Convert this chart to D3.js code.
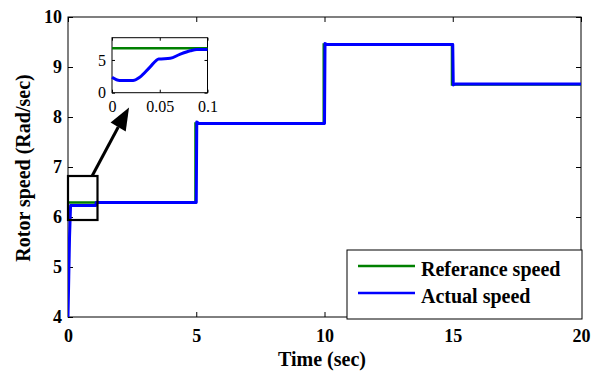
<!DOCTYPE html>
<html>
<head>
<meta charset="utf-8">
<script src="https://cdn.jsdelivr.net/npm/d3@7"></script>
<style>
  body { margin: 0; background: #fff; }
  text { font-family: "Liberation Serif", "Times New Roman", serif; }
</style>
</head>
<body>
<script>
// main chart data
const refTime  = [0, 4.97, 4.97, 9.97, 9.97, 14.97, 14.97, 20]
const refSpeed = [6.29, 6.29, 7.87, 7.87, 9.45, 9.45, 8.65, 8.65]

const actTime  = [0, 0.03, 0.06, 0.1, 1.08, 1.1, 5.0, 5.02, 5.1, 10.0, 10.02, 10.1, 15.0, 15.02, 15.1, 20]
const actSpeed = [4, 4.8, 5.6, 6.23, 6.23, 6.29, 6.29, 7.9, 7.87, 7.87, 9.47, 9.45, 9.45, 8.64, 8.66, 8.66]

// inset (zoom on first 0.1 s)
const insTime   = [0, 0.008, 0.022, 0.029, 0.040, 0.049, 0.061, 0.071, 0.082, 0.089, 0.1]
const insActual = [2.35, 1.85, 1.85, 2.35, 3.95, 5.15, 5.25, 5.85, 6.4, 6.6, 6.6]
const insRefTime = [0, 0.1]
const insRef    = [6.8, 6.8]

const xTicks = [0, 5, 10, 15, 20]
const yTicks = [4, 5, 6, 7, 8, 9, 10]
const insXTicks = [0, 0.05, 0.1]
const insYTicks = [0, 5]

const legendItems = [
  {name: 'Referance speed', color: '#008000'},
  {name: 'Actual speed', color: '#0000ff'}
]

const W = 592, H = 376
const m = {left: 68, right: 11, top: 17, bottom: 59}
const SERIF = '"Liberation Serif", "Times New Roman", serif'

const svg = d3.select('body')
  .append('svg')
  .attr('width', W)
  .attr('height', H)

const x = d3.scaleLinear().domain([0, 20]).range([m.left, W - m.right])
const y = d3.scaleLinear().domain([4, 10]).range([H - m.bottom, m.top])

function drawAxes(g, xs, ys, xt, yt, opt) {
  const tl = opt.tick
  const [x0, x1] = xs.range()
  const [y0, y1] = ys.range()
  // ticks inward on all four sides
  const bottom = g.append('g').attr('transform', `translate(0,${y0})`)
    .call(d3.axisBottom(xs).tickValues(xt).tickSize(-tl).tickPadding(opt.padX).tickFormat(opt.fx))
  const topAx = g.append('g').attr('transform', `translate(0,${y1})`)
    .call(d3.axisTop(xs).tickValues(xt).tickSize(-tl).tickFormat(''))
  const left = g.append('g').attr('transform', `translate(${x0},0)`)
    .call(d3.axisLeft(ys).tickValues(yt).tickSize(-tl).tickPadding(opt.padY).tickFormat(opt.fy))
  const right = g.append('g').attr('transform', `translate(${x1},0)`)
    .call(d3.axisRight(ys).tickValues(yt).tickSize(-tl).tickFormat(''))
  ;[bottom, topAx, left, right].forEach(a => {
    a.attr('font-family', SERIF)
      .attr('font-size', opt.size)
      .attr('font-weight', opt.weight)
    a.select('.domain').remove()
    a.selectAll('line').attr('stroke', '#000').attr('stroke-width', 1)
    a.selectAll('text')
      .attr('fill', '#000')
      .attr('font-family', SERIF)
      .attr('font-weight', opt.weight)
      .style('font-family', SERIF)
      .style('font-size', opt.size + 'px')
      .style('font-weight', opt.weight)
  })
  g.append('rect')
    .attr('x', x0).attr('y', y1)
    .attr('width', x1 - x0).attr('height', y0 - y1)
    .attr('fill', 'none').attr('stroke', '#000').attr('stroke-width', 1)
}

drawAxes(svg.append('g'), x, y, xTicks, yTicks,
  {tick: 5, padX: 12, padY: 6, size: 18, weight: 'bold', fx: d3.format('d'), fy: d3.format('d')})

svg.append('clipPath').attr('id', 'main-clip')
  .append('rect')
  .attr('x', m.left).attr('y', m.top - 3)
  .attr('width', W - m.left - m.right).attr('height', H - m.top - m.bottom + 3)

const line = d3.line().x(d => x(d[0])).y(d => y(d[1]))

svg.append('path')
  .datum(refTime.map((t, i) => [t, refSpeed[i]]))
  .attr('d', line)
  .attr('fill', 'none')
  .attr('stroke', '#008000')
  .attr('stroke-width', 2.5)
  .attr('clip-path', 'url(#main-clip)')

svg.append('path')
  .datum(actTime.map((t, i) => [t, actSpeed[i]]))
  .attr('d', line)
  .attr('fill', 'none')
  .attr('stroke', '#0000ff')
  .attr('stroke-width', 3)
  .attr('stroke-linejoin', 'round')
  .attr('clip-path', 'url(#main-clip)')

// zoom box + arrow
svg.append('rect')
  .attr('x', x(0)).attr('y', y(6.82))
  .attr('width', x(1.15) - x(0)).attr('height', y(5.94) - y(6.82))
  .attr('fill', 'none').attr('stroke', '#000').attr('stroke-width', 2.2)

svg.append('line')
  .attr('x1', x(0.94)).attr('y1', y(6.82))
  .attr('x2', x(1.96)).attr('y2', y(7.8))
  .attr('stroke', '#000').attr('stroke-width', 3)

svg.append('path')
  .attr('d', `M${x(2.38)},${y(8.19)} L${x(1.66)},${y(7.89)} L${x(2.25)},${y(7.71)} Z`)
  .attr('fill', '#000')

// inset
const ix = d3.scaleLinear().domain([0, 0.1]).range([112, 207.5])
const iy = d3.scaleLinear().domain([0, 8.4]).range([92.7, 37.7])
const ins = svg.append('g')
ins.append('rect')
  .attr('x', 112).attr('y', 37.7).attr('width', 95.5).attr('height', 55)
  .attr('fill', '#fff')
drawAxes(ins, ix, iy, insXTicks, insYTicks,
  {tick: 3, padX: 8, padY: 6, size: 16, weight: 'normal', fx: d => String(d), fy: d3.format('d')})

const iline = d3.line().x(d => ix(d[0])).y(d => iy(d[1])).curve(d3.curveMonotoneX)
ins.append('path')
  .datum(insRefTime.map((t, i) => [t, insRef[i]]))
  .attr('d', iline)
  .attr('fill', 'none').attr('stroke', '#008000').attr('stroke-width', 2.5)
ins.append('path')
  .datum(insTime.map((t, i) => [t, insActual[i]]))
  .attr('d', iline)
  .attr('fill', 'none').attr('stroke', '#0000ff').attr('stroke-width', 3)

// legend
const lg = svg.append('g').attr('transform', 'translate(347,250)')
lg.append('rect')
  .attr('width', 235).attr('height', 69)
  .attr('fill', '#fff').attr('stroke', '#000').attr('stroke-width', 1)
lg.selectAll('g.item')
  .data(legendItems)
  .enter()
  .append('g')
  .attr('class', 'item')
  .attr('transform', (d, i) => `translate(0,${16 + i * 27})`)
  .each(function(d) {
    const it = d3.select(this)
    it.append('line')
      .attr('x1', 11).attr('x2', 68)
      .attr('stroke', d.color).attr('stroke-width', 2.5)
    it.append('text')
      .attr('x', 74).attr('y', 10)
      .style('font-size', '20px').style('font-weight', 'bold')
      .text(d.name)
  })

// axis titles
svg.append('text')
  .attr('x', 322).attr('y', 366)
  .attr('text-anchor', 'middle')
  .style('font-size', '20px').style('font-weight', 'bold')
  .text('Time (sec)')

svg.append('text')
  .attr('transform', `translate(30,168) rotate(-90)`)
  .attr('text-anchor', 'middle')
  .style('font-size', '20px').style('font-weight', 'bold')
  .text('Rotor speed (Rad/sec)')
</script>
</body>
</html>
